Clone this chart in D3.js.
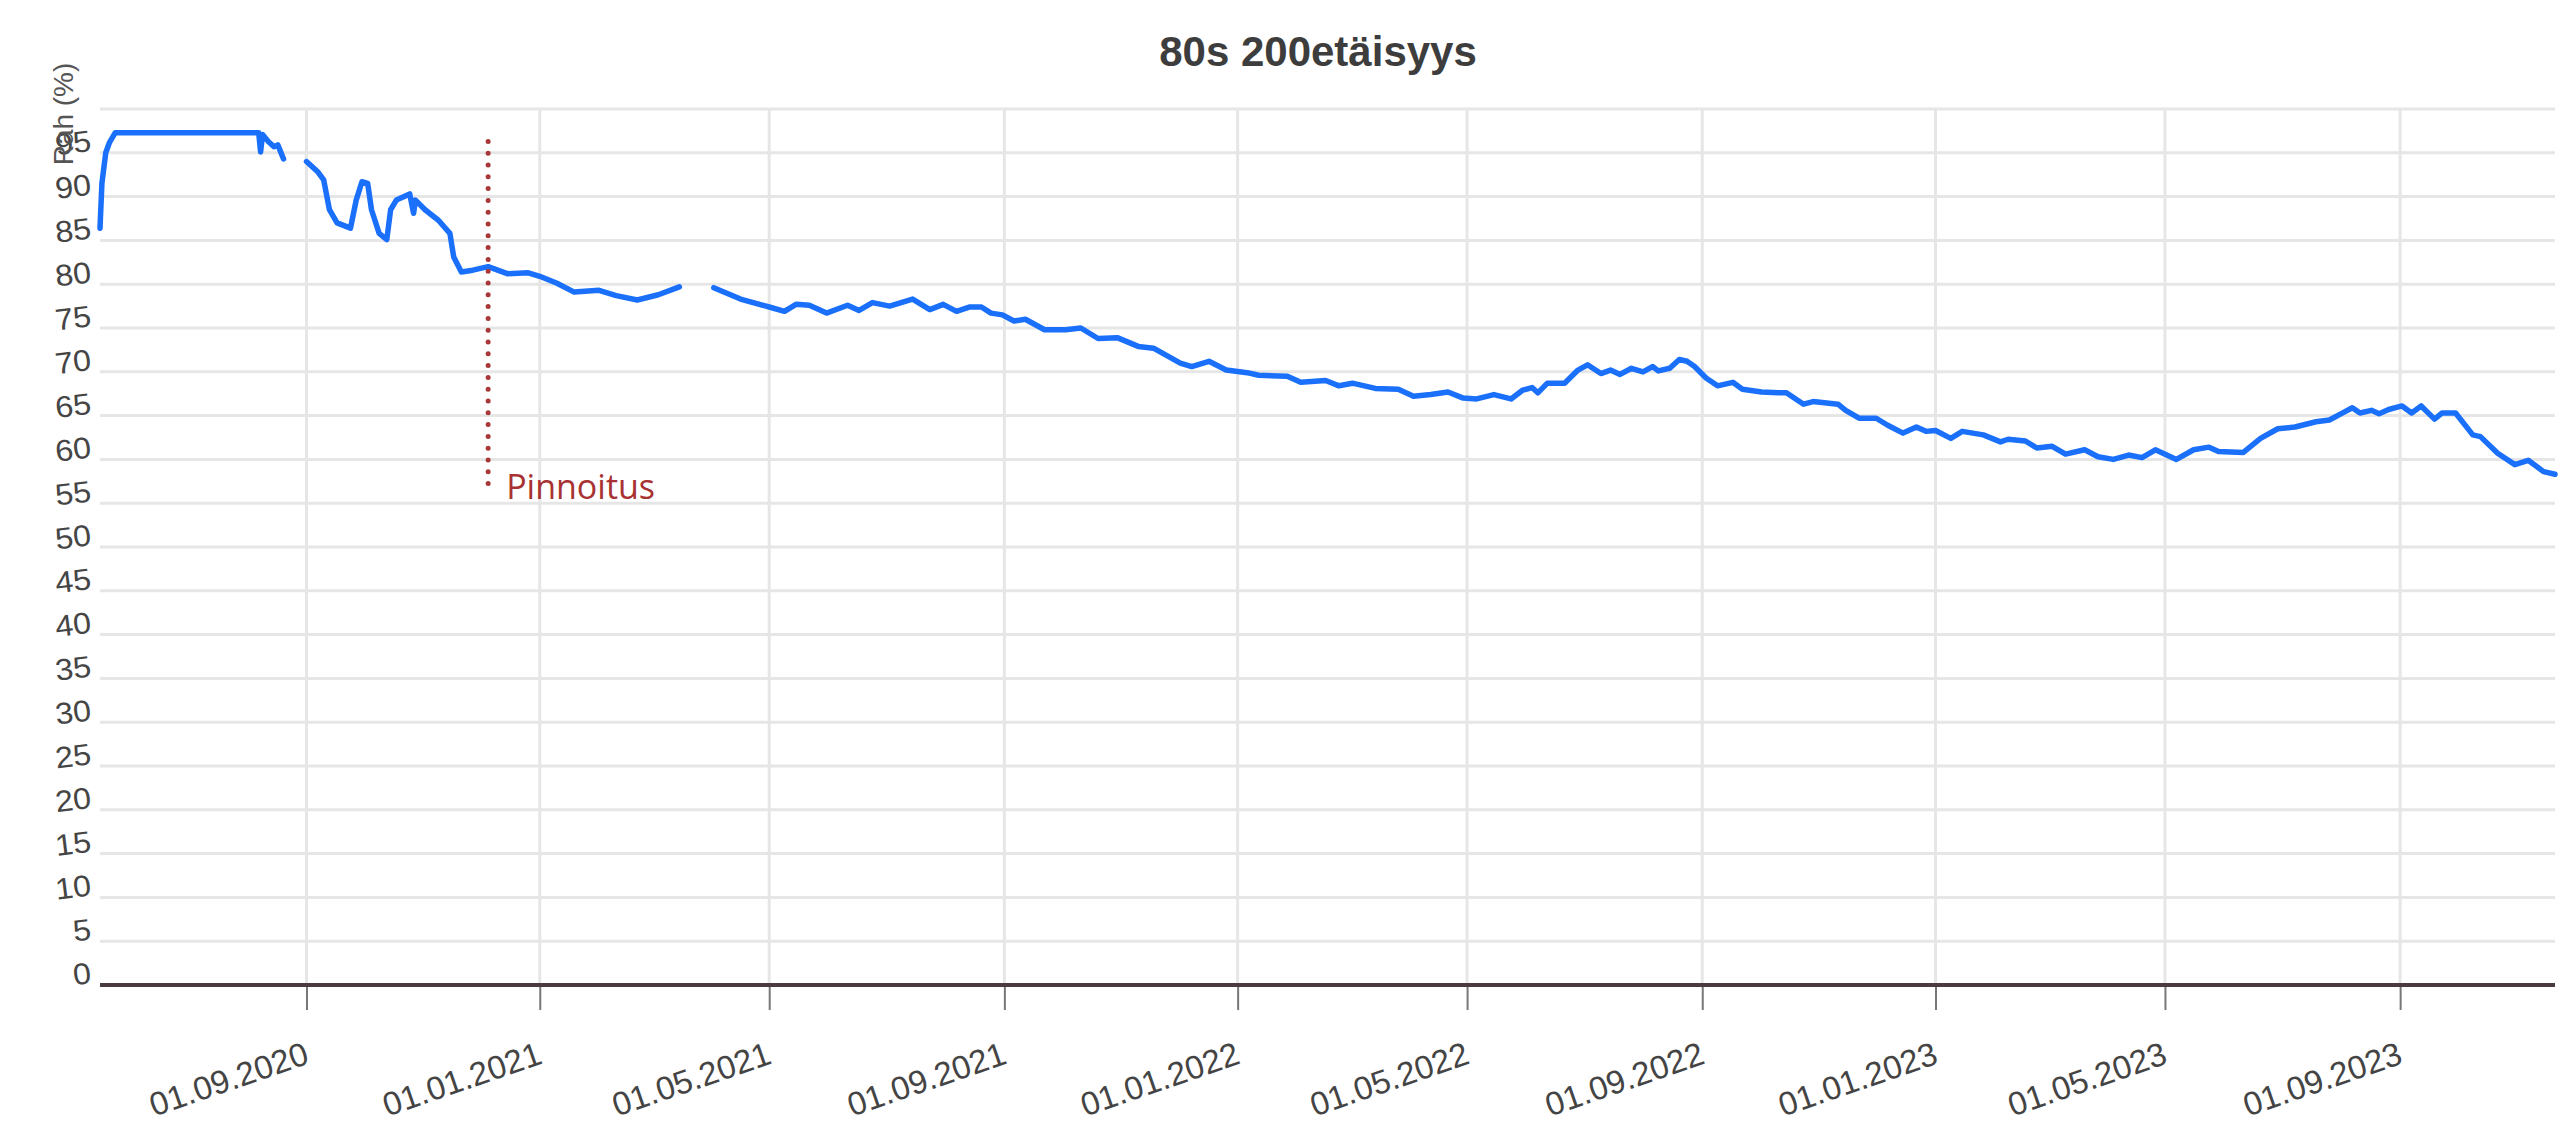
<!DOCTYPE html>
<html>
<head>
<meta charset="utf-8">
<script src="https://cdn.jsdelivr.net/npm/d3@7"></script>
<style>
  html, body { margin: 0; padding: 0; background: #fff; }
  svg { display: block; }
</style>
</head>
<body>
<svg id="chart" width="2560" height="1131"></svg>
<script>
// ---------------- DATA ----------------
const chartTitle = "80s 200etäisyys";
const yAxisTitle = "Rah (%)";
const yGridValues = [0,5,10,15,20,25,30,35,40,45,50,55,60,65,70,75,80,85,90,95,100];
const yTickLabels = [0,5,10,15,20,25,30,35,40,45,50,55,60,65,70,75,80,85,90,95];
const xTickDates = ["2020-09-01","2021-01-01","2021-05-01","2021-09-01","2022-01-01","2022-05-01",
                    "2022-09-01","2023-01-01","2023-05-01","2023-09-01"];
const xDomain = ["2020-05-16","2023-11-21"];

const dates = [
  "2020-05-16","2020-05-17","2020-05-19","2020-05-21","2020-05-24","2020-08-07","2020-08-08","2020-08-09",
  "2020-08-12","2020-08-15","2020-08-17","2020-08-20","2020-08-25",
  "2020-09-01","2020-09-07","2020-09-10","2020-09-13","2020-09-17","2020-09-24","2020-09-27","2020-09-30",
  "2020-10-03","2020-10-05","2020-10-09","2020-10-13","2020-10-15","2020-10-18","2020-10-25","2020-10-27",
  "2020-10-28","2020-11-02","2020-11-09","2020-11-15","2020-11-17","2020-11-21","2020-11-27","2020-12-05",
  "2020-12-15","2020-12-26","2021-01-01","2021-01-10","2021-01-19","2021-02-01","2021-02-10","2021-02-21",
  "2021-03-04","2021-03-15","2021-03-24",
  "2021-04-02","2021-04-16","2021-05-01","2021-05-09","2021-05-15","2021-05-22","2021-05-31","2021-06-11",
  "2021-06-17","2021-06-24","2021-07-03","2021-07-15","2021-07-24","2021-07-31","2021-08-07","2021-08-14",
  "2021-08-20","2021-08-25","2021-08-31","2021-09-06","2021-09-12","2021-09-22","2021-10-03","2021-10-11",
  "2021-10-20","2021-10-30","2021-11-10","2021-11-18","2021-12-02","2021-12-08","2021-12-17","2021-12-26",
  "2022-01-06","2022-01-12","2022-01-27","2022-02-03","2022-02-16","2022-02-23","2022-03-02","2022-03-14",
  "2022-03-26","2022-04-03","2022-04-12","2022-04-21","2022-04-29","2022-05-06","2022-05-15","2022-05-24",
  "2022-05-30","2022-06-04","2022-06-07","2022-06-12","2022-06-21","2022-06-28","2022-07-03","2022-07-10",
  "2022-07-15","2022-07-20","2022-07-26","2022-08-01","2022-08-06","2022-08-09","2022-08-15","2022-08-20",
  "2022-08-24","2022-08-28","2022-09-03","2022-09-09","2022-09-17","2022-09-22","2022-10-02","2022-10-11",
  "2022-10-15","2022-10-24","2022-10-29","2022-11-11","2022-11-15","2022-11-22","2022-12-01","2022-12-07",
  "2022-12-15","2022-12-22","2022-12-27","2023-01-01","2023-01-09","2023-01-15","2023-01-26","2023-02-04",
  "2023-02-08","2023-02-17","2023-02-23","2023-03-03","2023-03-10","2023-03-20","2023-03-27","2023-04-04",
  "2023-04-12","2023-04-19","2023-04-26","2023-05-07","2023-05-16","2023-05-24","2023-05-29","2023-06-11",
  "2023-06-20","2023-06-29","2023-07-08","2023-07-19","2023-07-26","2023-08-01","2023-08-07","2023-08-11",
  "2023-08-17","2023-08-21","2023-08-26","2023-09-02","2023-09-07","2023-09-12","2023-09-19","2023-09-23",
  "2023-09-30","2023-10-09","2023-10-13","2023-10-22","2023-10-31","2023-11-07","2023-11-15","2023-11-21"
];
const values = [
  86.4, 91.5, 95.0, 96.2, 97.3, 97.3, 95.1, 97.1,
  96.3, 95.7, 95.9, 94.3, null,
  94.0, 92.8, 91.9, 88.5, 87.0, 86.4, 89.6, 91.7,
  91.5, 88.5, 85.8, 85.1, 88.5, 89.6, 90.3, 88.1,
  89.6, 88.5, 87.3, 85.8, 83.1, 81.4, 81.6, 82.0,
  81.2, 81.3, 80.9, 80.1, 79.1, 79.3, 78.7, 78.2,
  78.8, 79.7, null,
  79.6, 78.3, 77.4, 76.9, 77.7, 77.6, 76.7, 77.6,
  77.0, 77.9, 77.5, 78.3, 77.1, 77.7, 76.9, 77.4,
  77.4, 76.7, 76.5, 75.8, 76.0, 74.8, 74.8, 75.0,
  73.8, 73.9, 72.9, 72.7, 71.0, 70.6, 71.2, 70.2,
  69.9, 69.6, 69.5, 68.8, 69.0, 68.4, 68.7, 68.1,
  68.0, 67.2, 67.4, 67.7, 67.0, 66.9, 67.4, 66.9,
  67.9, 68.2, 67.6, 68.7, 68.7, 70.2, 70.8, 69.8,
  70.2, 69.7, 70.4, 70.0, 70.6, 70.1, 70.4, 71.4,
  71.2, 70.6, 69.3, 68.4, 68.8, 68.0, 67.7, 67.6,
  67.6, 66.3, 66.6, 66.3, 65.6, 64.7, 64.7, 63.9,
  63.0, 63.7, 63.2, 63.3, 62.4, 63.2, 62.8, 62.0,
  62.3, 62.1, 61.3, 61.5, 60.6, 61.1, 60.3, 60.0,
  60.5, 60.2, 61.1, 60.0, 61.1, 61.4, 60.9, 60.8,
  62.4, 63.5, 63.7, 64.3, 64.5, 65.2, 65.9, 65.3,
  65.6, 65.2, 65.7, 66.1, 65.3, 66.1, 64.6, 65.3,
  65.3, 62.8, 62.6, 60.7, 59.4, 59.9, 58.6, 58.3
];

const annotationLabel = "Pinnoitus";
const annotationDate = "2020-12-05";
const annotationRange = [56, 96.3];

// ---------------- CHART ----------------
(function () {
const parse = d3.utcParse("%Y-%m-%d");
const fmt = d3.utcFormat("%d.%m.%Y");
const svg = d3.select("#chart");

const mLeft = 100, mRight = 2555, mTop = 109, mBottom = 985;

const x = d3.scaleUtc().domain(xDomain.map(parse)).range([mLeft, mRight]);
const y = d3.scaleLinear().domain([0, 100]).range([mBottom, mTop]);

const data = dates.map((d, i) => ({ date: parse(d), v: values[i] }));

// Horizontal grid
svg.append("g")
  .selectAll("line")
  .data(yGridValues)
  .join("line")
  .attr("x1", mLeft).attr("x2", mRight)
  .attr("y1", d => y(d)).attr("y2", d => y(d))
  .attr("stroke", "#e6e6e6")
  .attr("stroke-width", 3);

// Vertical grid
svg.append("g")
  .selectAll("line")
  .data(xTickDates.map(parse))
  .join("line")
  .attr("x1", d => x(d)).attr("x2", d => x(d))
  .attr("y1", y(100)).attr("y2", y(0))
  .attr("stroke", "#e6e6e6")
  .attr("stroke-width", 3);

// Y tick labels
svg.append("g")
  .selectAll("text")
  .data(yTickLabels)
  .join("text")
  .attr("transform", d => `translate(${mLeft - 9},${y(d) - 12}) rotate(-7) scale(1.08,1)`)
  .attr("text-anchor", "end")
  .attr("dominant-baseline", "central")
  .attr("font-family", "Liberation Sans, Arial, sans-serif")
  .attr("font-size", 30)
  .attr("fill", "#454545")
  .text(d => d);

// Y axis title
svg.append("text")
  .attr("transform", `translate(63,114) rotate(-90)`)
  .attr("text-anchor", "middle")
  .attr("dominant-baseline", "central")
  .attr("font-family", "Liberation Sans, Arial, sans-serif")
  .attr("font-size", 28)
  .attr("fill", "#555")
  .text(yAxisTitle);

// X axis with ticks
const xAxis = d3.axisBottom(x)
  .tickValues(xTickDates.map(parse))
  .tickSize(25)
  .tickFormat("");
const gx = svg.append("g")
  .attr("transform", `translate(0,${mBottom})`)
  .call(xAxis);
gx.select(".domain").remove();
gx.selectAll(".tick line").attr("stroke", "#777").attr("stroke-width", 2);

// X tick labels
svg.append("g")
  .selectAll("text")
  .data(xTickDates.map(parse))
  .join("text")
  .attr("transform", d => `translate(${x(d) + 4},${mBottom + 78}) rotate(-19)`)
  .attr("text-anchor", "end")
  .attr("font-family", "Liberation Sans, Arial, sans-serif")
  .attr("font-size", 33)
  .attr("fill", "#444")
  .text(d => fmt(d));

// Baseline axis line
svg.append("line")
  .attr("x1", mLeft).attr("x2", mRight)
  .attr("y1", y(0)).attr("y2", y(0))
  .attr("stroke", "#4a3c3e")
  .attr("stroke-width", 4);

// Data line
const line = d3.line()
  .defined(d => d.v != null)
  .x(d => x(d.date))
  .y(d => y(d.v));

svg.append("path")
  .datum(data)
  .attr("fill", "none")
  .attr("stroke", "#1a70fa")
  .attr("stroke-width", 5.5)
  .attr("stroke-linejoin", "round")
  .attr("stroke-linecap", "round")
  .attr("d", line);

// Annotation
const ax = x(parse(annotationDate));
svg.append("line")
  .attr("x1", ax).attr("x2", ax)
  .attr("y1", y(annotationRange[1])).attr("y2", y(annotationRange[0]))
  .attr("stroke", "#a83838")
  .attr("stroke-width", 5)
  .attr("stroke-linecap", "round")
  .attr("stroke-dasharray", "0 11.8");

svg.append("text")
  .attr("x", ax + 18)
  .attr("y", y(annotationRange[0]) + 5)
  .attr("font-family", "Open Sans, sans-serif")
  .attr("font-size", 34)
  .attr("fill", "#a83232")
  .text(annotationLabel);

// Title
svg.append("text")
  .attr("x", 1318)
  .attr("y", 66)
  .attr("text-anchor", "middle")
  .attr("font-family", "Liberation Sans, Arial, sans-serif")
  .attr("font-weight", "bold")
  .attr("font-size", 42)
  .attr("fill", "#3d3d3d")
  .text(chartTitle);
})();
</script>
</body>
</html>
